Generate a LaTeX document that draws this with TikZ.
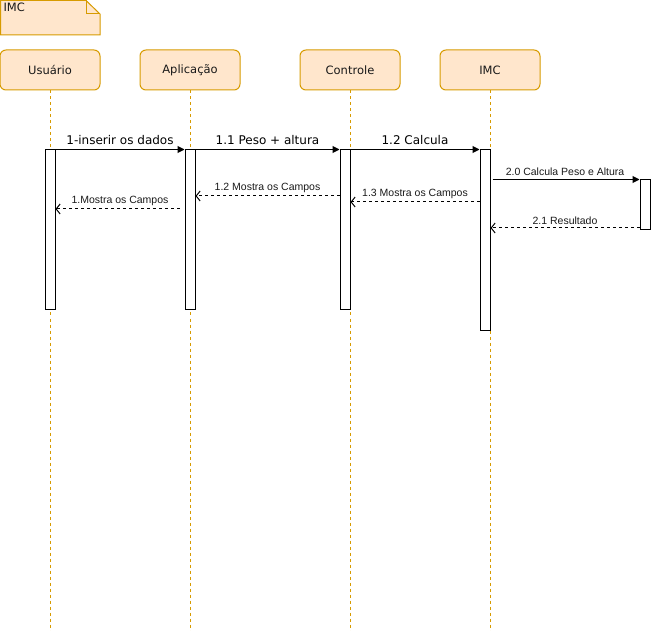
\documentclass[tikz,border=0pt]{standalone}
\usepackage{fontspec}
\setmainfont{DejaVu Sans}
\newfontfamily\smallfont{Liberation Sans}
\usetikzlibrary{arrows.meta}
\definecolor{noteFill}{HTML}{FFE6CC}
\definecolor{noteDraw}{HTML}{D79B00}
\tikzset{
  font={\fontsize{12pt}{14}\selectfont}}

\begin{document}
\begin{tikzpicture}[x=1pt,y=-1pt,line width=1pt]
\tikzstyle{every node}+=[inner sep=0pt]
\tikzstyle{head}=[draw=noteDraw,fill=noteFill,rounded corners=6pt,minimum width=100pt,minimum height=40pt,text=black!90,font={\fontsize{11.5pt}{14}\selectfont}]
\tikzstyle{bar}=[draw=black,fill=white,minimum width=10pt]
\tikzstyle{life}=[draw=noteDraw,dash pattern=on 3pt off 3pt]
\tikzstyle{call}=[-{Triangle[length=7pt,width=7pt]}]
\tikzstyle{back}=[dash pattern=on 3pt off 3pt,-{Straight Barb[length=4pt,width=10pt]}]
\tikzstyle{lbl}=[font={\smallfont\fontsize{10.5pt}{12}\selectfont},text=black!90]
\useasboundingbox (0,0) rectangle (651,631);
% note
\draw [noteDraw,fill=noteFill] (0.5,0.5) -- (86,0.5) -- (100,14) -- (100,35) -- (0.5,35) -- cycle;
\draw [noteDraw] (86,0.5) -- (86,14) -- (100,14);
\node [anchor=north west,text=black!90,font={\fontsize{11.5pt}{14}\selectfont}] (note) at (3,2) {IMC};
% participants
\node [head] (hU) at (50,70) {Usuário};
\node [head] (hA) at (190,70) {Aplicação};
\node [head] (hC) at (350,70) {Controle};
\node [head] (hI) at (490,70) {IMC};
\draw [life] (hU.south) -- ++(0,540);
\draw [life] (hA.south) -- ++(0,540);
\draw [life] (hC.south) -- ++(0,540);
\draw [life] (hI.south) -- ++(0,540);
% activations
\node [bar,minimum height=160pt] (barU) at (50,230) {};
\node [bar,minimum height=160pt] (barA) at (190,230) {};
\node [bar,minimum height=160pt] (barC) at (345,230) {};
\node [bar,minimum height=180pt] (barI) at (485,240) {};
\node [bar,minimum height=50pt] (barR) at (645,205) {};
\coordinate (y12) at (0,196);
\coordinate (y13) at (0,202);
\coordinate (y1) at (0,209);
\coordinate (y21) at (0,228);
% messages
\draw [call] (barU.north east) -- (barA.north west) node [midway,above=4pt] (m1) {1-inserir os dados};
\draw [call] (barA.north east) -- (barC.north west) node [midway,above=4pt] (m11) {1.1 Peso + altura};
\draw [call] (barC.north east) -- (barI.north west) node [midway,above=4pt] (m12) {1.2 Calcula};
\draw [call,shorten <=2pt] (barI.east |- barR.north) -- (barR.north west) node [lbl,midway,above=3pt] (m20) {2.0 Calcula Peso e Altura};
\draw [back] (barR.west |- y21) -- (barI.east |- y21) node [lbl,midway,above=3pt] (m21) {2.1 Resultado};
\draw [back] (barI.west |- y13) -- (barC.east |- y13) node [lbl,midway,above=3pt] (m13) {1.3 Mostra os Campos};
\draw [back] (barC.west |- y12) -- (barA.east |- y12) node [lbl,midway,above=3pt] (m12b) {1.2 Mostra os Campos};
\draw [back,shorten <=5pt] (barA.west |- y1) -- (barU.east |- y1) node [lbl,midway,above=3pt] (m1b) {1.Mostra os Campos};
\end{tikzpicture}
\end{document}
